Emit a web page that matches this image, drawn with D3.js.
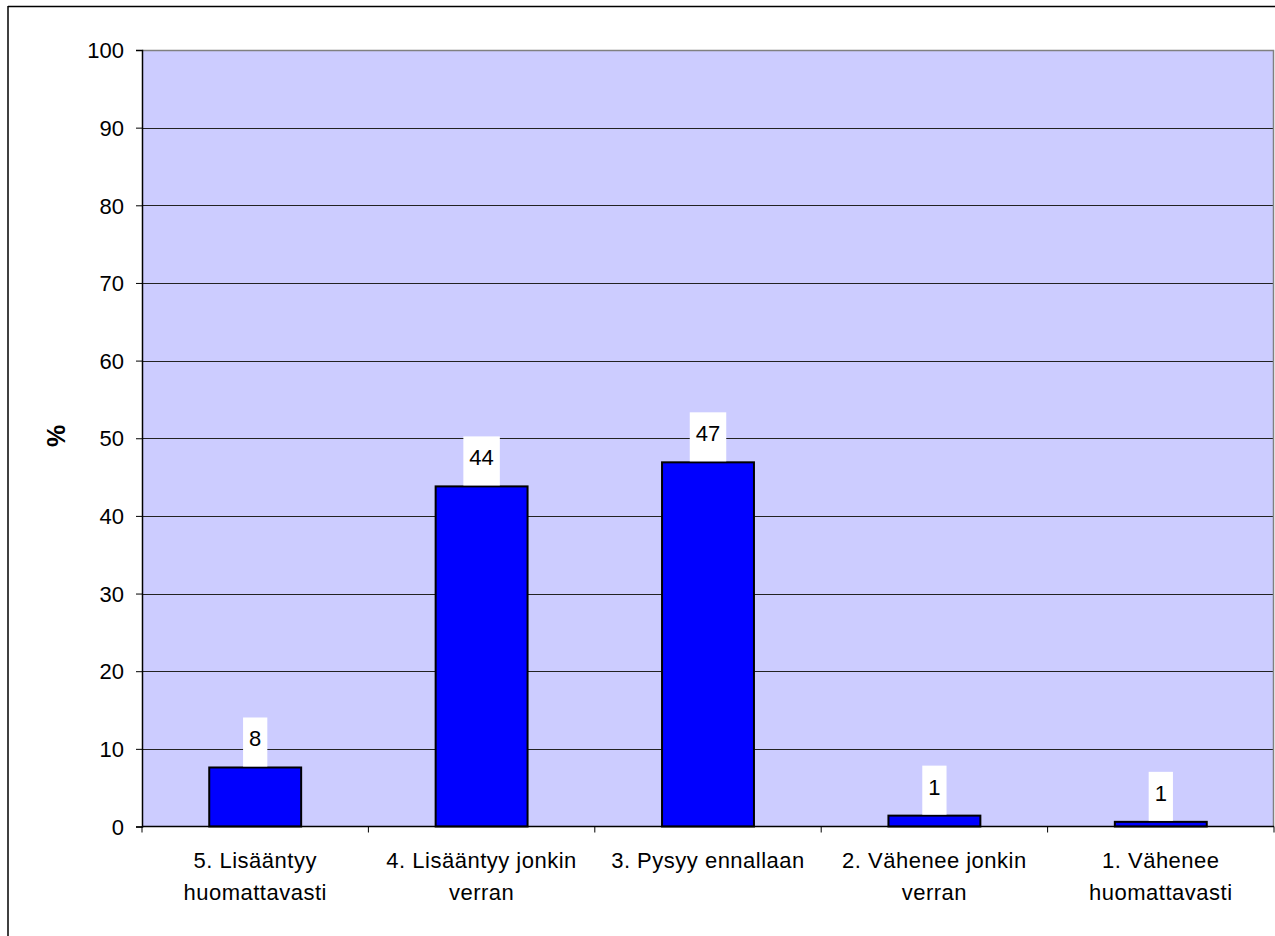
<!DOCTYPE html>
<html><head><meta charset="utf-8">
<script src="https://cdn.jsdelivr.net/npm/d3@7"></script>
<style>body{margin:0;background:#fff}svg{display:block}</style>
</head><body>
<script>
const categories = [["5. Lisääntyy","huomattavasti"],["4. Lisääntyy jonkin","verran"],["3. Pysyy ennallaan"],["2. Vähenee jonkin","verran"],["1. Vähenee","huomattavasti"]];
const values = [7.6, 43.8, 46.9, 1.4, 0.6];
const valueLabels = ["8","44","47","1","1"];
const yTicks = [0,10,20,30,40,50,60,70,80,90,100];
const yTitle = "%";

const W=1275,H=936;
const m={l:142,t:50,r:1274,b:826.5};
const svg=d3.select("body").append("svg").attr("width",W).attr("height",H);
const font="Liberation Sans, Arial, sans-serif";
const fs=22;

// outer border
svg.append("line").attr("x1",8).attr("x2",W).attr("y1",6.5).attr("y2",6.5).attr("stroke","#000").attr("stroke-width",1.5);
svg.append("line").attr("x1",8).attr("x2",8).attr("y1",6).attr("y2",H).attr("stroke","#000").attr("stroke-width",1.5);

const x=d3.scaleBand().domain(d3.range(categories.length)).range([m.l,m.r]).paddingInner(0).paddingOuter(0);
const y=d3.scaleLinear().domain([0,100]).range([m.b,m.t]);

svg.append("rect").attr("x",m.l).attr("y",m.t).attr("width",m.r-m.l).attr("height",m.b-m.t).attr("fill","#CCCCFF");

// gridlines
svg.append("g").selectAll("line").data(yTicks.filter(d=>d>0&&d<100)).join("line")
  .attr("x1",m.l).attr("x2",m.r).attr("y1",d=>Math.round(y(d))+0.5).attr("y2",d=>Math.round(y(d))+0.5)
  .attr("stroke","#222").attr("stroke-width",1);
// plot border top/right gray
svg.append("path").attr("d",`M${m.l},${m.t+0.5}H${m.r-0.5}V${m.b}`).attr("fill","none").attr("stroke","#808080").attr("stroke-width",1.5);

// bars
const bw=x.bandwidth()*0.406;
svg.append("g").selectAll("rect").data(values).join("rect")
  .attr("x",(d,i)=>x(i)+x.bandwidth()/2-bw/2).attr("width",bw)
  .attr("y",d=>y(d)).attr("height",d=>m.b-y(d))
  .attr("fill","#0000FF").attr("stroke","#000").attr("stroke-width",2);

// y axis
const ya=svg.append("g").attr("transform",`translate(${m.l},0)`)
  .call(d3.axisLeft(y).tickValues(yTicks).tickSize(6).tickPadding(12).tickFormat(d3.format("d")));
ya.select(".domain").attr("stroke","#000").attr("stroke-width",1.5);
ya.selectAll(".tick line").attr("stroke","#000");
ya.selectAll("text").attr("font-family",font).attr("font-size",fs).attr("fill","#000").attr("dy","0.35em");

// x axis
const xa=svg.append("g").attr("transform",`translate(0,${m.b})`);
xa.append("line").attr("x1",m.l).attr("x2",m.r).attr("stroke","#000").attr("stroke-width",1.5);
xa.selectAll(".xt").data(d3.range(categories.length+1)).join("line").attr("class","xt")
  .attr("x1",i=>i<categories.length?x(i):m.r).attr("x2",i=>i<categories.length?x(i):m.r)
  .attr("y1",0).attr("y2",6).attr("stroke","#000");
categories.forEach((lines,i)=>{
  const t=svg.append("text").attr("x",x(i)+x.bandwidth()/2).attr("text-anchor","middle")
    .attr("font-family",font).attr("font-size",fs).attr("letter-spacing","0.5px").attr("fill","#000");
  lines.forEach((s,j)=>t.append("tspan").attr("x",x(i)+x.bandwidth()/2).attr("y",868+j*31.5).text(s));
});

// value labels
values.forEach((v,i)=>{
  const cx=x(i)+x.bandwidth()/2, top=y(v);
  const g=svg.append("g");
  const t=g.append("text").attr("x",cx).attr("y",top-21).attr("text-anchor","middle")
    .attr("font-family",font).attr("font-size",fs).attr("fill","#000").text(valueLabels[i]);
  const w=t.node().getComputedTextLength()+12;
  g.insert("rect","text").attr("x",cx-w/2).attr("y",top-50).attr("width",w).attr("height",49).attr("fill","#fff");
});

// y title
svg.append("text").attr("transform","translate(65,436) rotate(-90)").attr("text-anchor","middle")
  .attr("font-family",font).attr("font-size",25).attr("font-weight","bold").attr("fill","#000").text(yTitle);
</script>
</body></html>
